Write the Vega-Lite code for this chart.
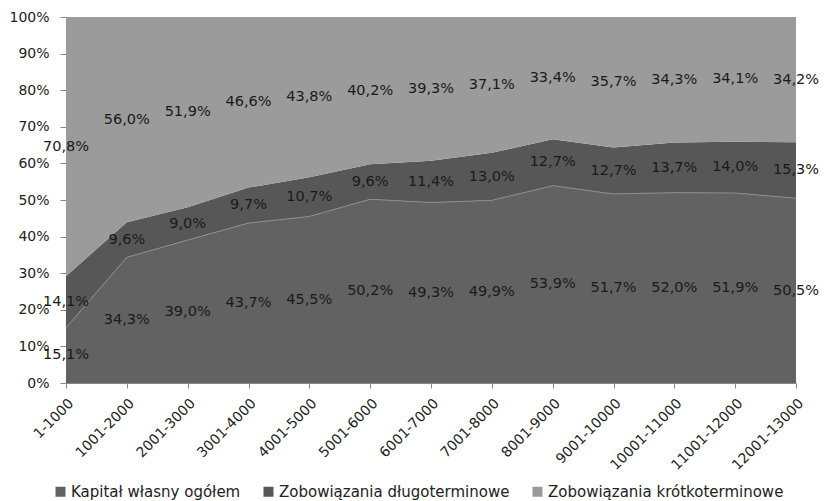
{
  "$schema": "https://vega.github.io/schema/vega-lite/v6.json",
  "width": 730,
  "height": 366,
  "autosize": "none",
  "padding": {"left": 66, "top": 17, "right": 28, "bottom": 118},
  "background": "white",
  "config": {
    "view": {"stroke": null},
    "font": "DejaVu Sans",
    "axisY": {"tickCount": 10, "labelOverlap": false, "grid": false, "format": ".0%", "tickSize": 6, "tickColor": "#888", "domainColor": "#888", "labelFontSize": 14, "labelColor": "#222", "labelPadding": 11, "title": null}
  },
  "data": {"values": [
    {"kat": "1-1000", "seria": "Kapitał własny ogółem", "value": 15.1},
    {"kat": "1001-2000", "seria": "Kapitał własny ogółem", "value": 34.3},
    {"kat": "2001-3000", "seria": "Kapitał własny ogółem", "value": 39.0},
    {"kat": "3001-4000", "seria": "Kapitał własny ogółem", "value": 43.7},
    {"kat": "4001-5000", "seria": "Kapitał własny ogółem", "value": 45.5},
    {"kat": "5001-6000", "seria": "Kapitał własny ogółem", "value": 50.2},
    {"kat": "6001-7000", "seria": "Kapitał własny ogółem", "value": 49.3},
    {"kat": "7001-8000", "seria": "Kapitał własny ogółem", "value": 49.9},
    {"kat": "8001-9000", "seria": "Kapitał własny ogółem", "value": 53.9},
    {"kat": "9001-10000", "seria": "Kapitał własny ogółem", "value": 51.7},
    {"kat": "10001-11000", "seria": "Kapitał własny ogółem", "value": 52.0},
    {"kat": "11001-12000", "seria": "Kapitał własny ogółem", "value": 51.9},
    {"kat": "12001-13000", "seria": "Kapitał własny ogółem", "value": 50.5},
    {"kat": "1-1000", "seria": "Zobowiązania długoterminowe", "value": 14.1},
    {"kat": "1001-2000", "seria": "Zobowiązania długoterminowe", "value": 9.6},
    {"kat": "2001-3000", "seria": "Zobowiązania długoterminowe", "value": 9.0},
    {"kat": "3001-4000", "seria": "Zobowiązania długoterminowe", "value": 9.7},
    {"kat": "4001-5000", "seria": "Zobowiązania długoterminowe", "value": 10.7},
    {"kat": "5001-6000", "seria": "Zobowiązania długoterminowe", "value": 9.6},
    {"kat": "6001-7000", "seria": "Zobowiązania długoterminowe", "value": 11.4},
    {"kat": "7001-8000", "seria": "Zobowiązania długoterminowe", "value": 13.0},
    {"kat": "8001-9000", "seria": "Zobowiązania długoterminowe", "value": 12.7},
    {"kat": "9001-10000", "seria": "Zobowiązania długoterminowe", "value": 12.7},
    {"kat": "10001-11000", "seria": "Zobowiązania długoterminowe", "value": 13.7},
    {"kat": "11001-12000", "seria": "Zobowiązania długoterminowe", "value": 14.0},
    {"kat": "12001-13000", "seria": "Zobowiązania długoterminowe", "value": 15.3},
    {"kat": "1-1000", "seria": "Zobowiązania krótkoterminowe", "value": 70.8},
    {"kat": "1001-2000", "seria": "Zobowiązania krótkoterminowe", "value": 56.0},
    {"kat": "2001-3000", "seria": "Zobowiązania krótkoterminowe", "value": 51.9},
    {"kat": "3001-4000", "seria": "Zobowiązania krótkoterminowe", "value": 46.6},
    {"kat": "4001-5000", "seria": "Zobowiązania krótkoterminowe", "value": 43.8},
    {"kat": "5001-6000", "seria": "Zobowiązania krótkoterminowe", "value": 40.2},
    {"kat": "6001-7000", "seria": "Zobowiązania krótkoterminowe", "value": 39.3},
    {"kat": "7001-8000", "seria": "Zobowiązania krótkoterminowe", "value": 37.1},
    {"kat": "8001-9000", "seria": "Zobowiązania krótkoterminowe", "value": 33.4},
    {"kat": "9001-10000", "seria": "Zobowiązania krótkoterminowe", "value": 35.7},
    {"kat": "10001-11000", "seria": "Zobowiązania krótkoterminowe", "value": 34.3},
    {"kat": "11001-12000", "seria": "Zobowiązania krótkoterminowe", "value": 34.1},
    {"kat": "12001-13000", "seria": "Zobowiązania krótkoterminowe", "value": 34.2}
  ]},
  "transform": [
    {"stack": "value", "groupby": ["kat"], "sort": [{"field": "seria", "order": "ascending"}], "offset": "normalize", "as": ["y0", "y1"]},
    {"calculate": "(datum.y0 + datum.y1) / 2", "as": "ym"},
    {"calculate": "replace(format(datum.value, '.1f'), '.', ',') + '%'", "as": "lbl"}
  ],
  "encoding": {
    "x": {
      "field": "kat", "type": "ordinal",
      "sort": ["1-1000","1001-2000","2001-3000","3001-4000","4001-5000","5001-6000","6001-7000","7001-8000","8001-9000","9001-10000","10001-11000","11001-12000","12001-13000"],
      "scale": {"type": "point", "padding": 0},
      "axis": {"title": null, "labelAngle": -45, "labelFontSize": 14, "labelColor": "#222", "tickSize": 5, "tickColor": "#888", "domainColor": "#888", "labelPadding": 8, "labelOverlap": false}
    }
  },
  "layer": [
    {
      "mark": {"type": "area", "opacity": 1},
      "encoding": {
        "y": {"field": "y1", "type": "quantitative", "scale": {"domain": [0, 1]}},
        "y2": {"field": "y0"},
        "color": {"field": "seria", "type": "nominal",
          "scale": {"domain": ["Kapitał własny ogółem", "Zobowiązania długoterminowe", "Zobowiązania krótkoterminowe"], "range": ["#626262", "#575757", "#9b9b9b"]},
          "legend": {"title": null, "orient": "none", "legendX": -13, "legendY": 467, "direction": "horizontal", "columns": 3, "symbolType": "square", "symbolSize": 100, "labelFontSize": 15, "labelColor": "#222", "columnPadding": 20, "labelOffset": 3, "labelLimit": 400}}
      }
    },
    {
      "transform": [{"filter": "datum.seria === 'Kapitał własny ogółem'"}],
      "mark": {"type": "line", "color": "#8c8c8c", "strokeWidth": 1},
      "encoding": {"y": {"field": "y1", "type": "quantitative"}}
    },
    {
      "mark": {"type": "text", "fontSize": 14.5, "color": "#1a1a1a", "align": "center", "baseline": "middle"},
      "encoding": {
        "y": {"field": "ym", "type": "quantitative"},
        "text": {"field": "lbl", "type": "nominal"}
      }
    }
  ]
}
